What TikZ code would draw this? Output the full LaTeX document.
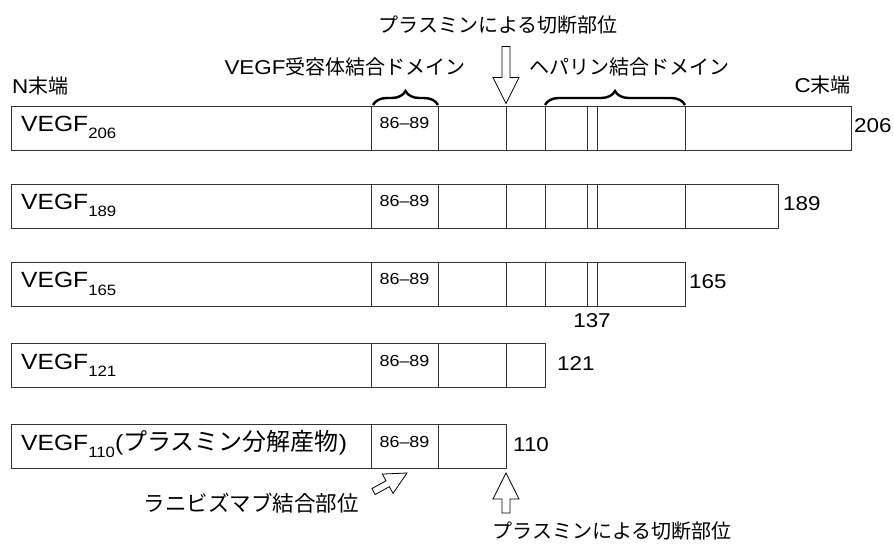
\documentclass[tikz,border=0pt]{standalone}
\usepackage{fontspec}
\setmainfont[FakeStretch=1.12]{Liberation Sans}
\newfontfamily\jp{Noto Sans CJK JP}
\usepackage{tikz}
\usetikzlibrary{calc,positioning,decorations.pathreplacing}
\tikzset{
  seg/.style={line width=0.9pt,black!80},
  rowbox/.style={draw,seg,anchor=north west,inner sep=0pt,minimum height=44pt},
  domain brace/.style={decorate,decoration={brace,amplitude=14pt},line width=2.4pt},
  hollow/.style={draw,fill=white,line width=0.8pt,line join=miter},
  txt/.style={inner sep=0pt,font=\fontsize{20}{24}\selectfont},
  res/.style={inner sep=0pt,font=\fontsize{16}{20}\selectfont},
  iso/.style={inner sep=0pt,anchor=base west,font=\fontsize{22}{26}\selectfont},
  pics/hollowarrow/.style={code={
    \draw[hollow] (0,0) -- (-26,13) -- (-26,4) -- (-#1,4) -- (-#1,-4)
      -- (-26,-4) -- (-26,-13) -- cycle;
  }}
}
\newcommand{\isosub}[1]{\raisebox{-7pt}{\fontsize{15}{15}\selectfont#1}}

\begin{document}
\begin{tikzpicture}[x=1pt,y=-1pt]
  \useasboundingbox (0,0) rectangle (894,545);
  % isoforms, one row each
  \foreach \i/\ytop/\xend/\xnum/\len in {1/106/851/854/206,2/184/778/783/189,
      3/262/685/689/165,4/343/545/557/121,5/424/506/513/110}{
    \node[rowbox,minimum width={(\xend-11)*1pt}] (row\i) at (11,\ytop) {};
    \foreach \x in {371,438,506,545,587,597,685}{
      \ifnum\x<\xend \draw[seg] (\x,\ytop) -- ++(0,44);\fi
    }
    \node[res,anchor=base] (site\i) at (404.5,\ytop+23) {86--89};
    \node[txt,anchor=base west] (len\i) at (\xnum,\ytop+27) {\len};
  }
  \node[iso] (name1) at (21,132) {VEGF\isosub{206}};
  \node[iso] (name2) at (21,210) {VEGF\isosub{189}};
  \node[iso] (name3) at (21,288) {VEGF\isosub{165}};
  \node[iso] (name4) at (21,369) {VEGF\isosub{121}};
  \node[iso] (name5) at (21,450)
    {VEGF\isosub{110}({\jp\fontsize{24}{26}\selectfont プラスミン分解産物})};
  \node[txt] (pos137) at (592,321) {137};

  % ends and domains
  \node[txt,anchor=west] (nterm) at (12,86) {N{\jp 末端}};
  \node[txt,anchor=east] (cterm) at (851,85) {C{\jp 末端}};
  \node[txt] (recdom) at (345,67) {VEGF{\jp 受容体結合ドメイン}};
  \node[txt] (hepdom) at (629,67) {\jp ヘパリン結合ドメイン};
  \draw[domain brace] (373,105) -- (438,105);
  \draw[domain brace] (545,105) -- (685,105);

  % cleavage and binding sites
  \node[txt] (cuttop) at (498,25) {\jp プラスミンによる切断部位};
  \coordinate (cuttip) at (506,103.5);
  \pic[rotate=-90] at (cuttip) {hollowarrow=57};
  \node[txt] (cutbot) at (612,531) {\jp プラスミンによる切断部位};
  \coordinate (cuttip2) at (506,473);
  \pic[rotate=90] at (cuttip2) {hollowarrow=40};
  \node[txt,font=\fontsize{21.5}{24}\selectfont] (ranibiz) at (251,503)
    {\jp ラニビズマブ結合部位};
  \coordinate (ranitip) at (407,473);
  \pic[rotate=29,scale=0.85] at (ranitip) {hollowarrow=45};
\end{tikzpicture}
\end{document}
